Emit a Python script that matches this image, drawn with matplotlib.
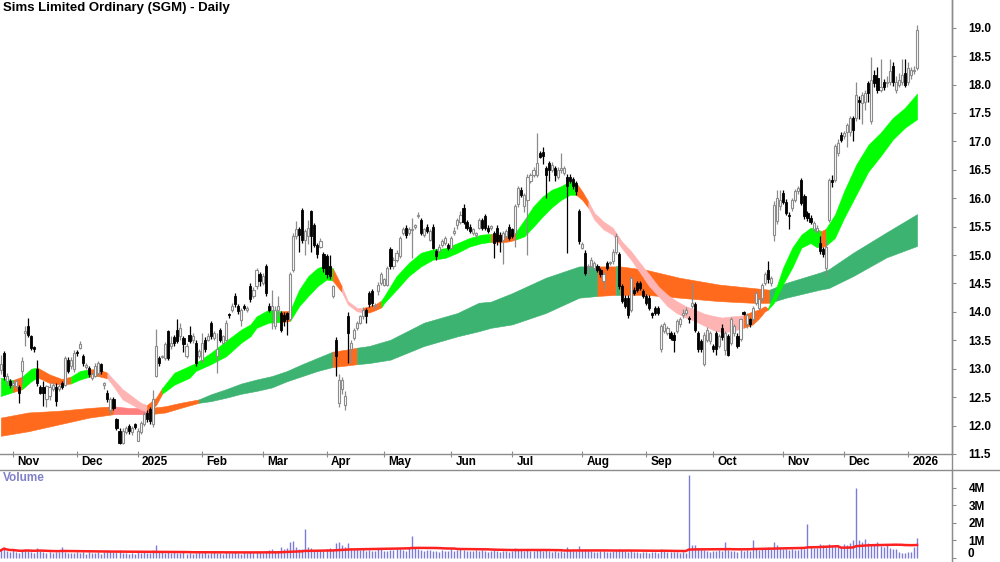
import numpy as np
import matplotlib
matplotlib.use("Agg")
import matplotlib.pyplot as plt
from matplotlib.transforms import blended_transform_factory
import pandas as pd

plt.rcParams['font.family'] = ['Liberation Sans', 'DejaVu Sans']

# ---------------- data ----------------
first_day = -4  # trading-day index of first candle (0 = 1 Nov 2024)

opens = [
    12.98, 13.28, 12.78, 12.78, 12.72, 12.70, 12.68, 12.96, 13.62, 13.75,
    13.57, 13.38, 12.99, 12.67, 12.68, 12.46, 12.52, 12.64, 12.68, 12.64,
    12.75, 12.72, 13.16, 13.05, 12.99, 13.30, 13.37, 13.22, 13.03, 13.02,
    12.84, 12.87, 12.92, 13.08, 12.72, 12.58, 12.28, 12.46, 12.11, 11.90,
    11.70, 11.88, 11.99, 11.88, 12.02, 11.73, 11.88, 12.02, 12.23, 12.29,
    12.02, 12.87, 13.19, 13.20, 13.19, 13.66, 13.40, 13.55, 13.69, 13.57,
    13.54, 13.22, 13.60, 13.51, 13.46, 13.22, 13.16, 13.51, 13.51, 13.81,
    13.54, 13.22, 13.69, 13.46, 13.51, 13.95, 14.04, 14.28, 14.10, 13.86,
    14.10, 14.04, 14.45, 14.28, 14.45, 14.66, 14.51, 14.80, 14.10, 14.04,
    13.75, 14.04, 13.98, 13.95, 13.98, 13.87, 14.74, 15.33, 15.45, 15.80,
    15.27, 15.33, 15.77, 15.53, 15.18, 15.15, 15.01, 14.98, 14.80, 14.28,
    13.51, 12.40, 12.64, 12.37, 13.92, 13.34, 13.54, 13.72, 13.81, 13.92,
    14.04, 14.33, 14.36, 14.10, 14.36, 14.51, 14.48, 14.48, 15.10, 14.80,
    14.92, 14.98, 15.39, 15.48, 15.39, 15.44, 15.50, 15.68, 15.62, 15.36,
    15.50, 15.27, 15.50, 15.07, 15.07, 15.18, 15.21, 15.18, 15.12, 15.39,
    15.53, 15.59, 15.83, 15.59, 15.50, 15.39, 15.36, 15.48, 15.62, 15.68,
    15.48, 15.48, 15.39, 15.48, 15.36, 15.27, 15.33, 15.50, 15.45, 15.39,
    15.89, 16.15, 15.86, 15.97, 16.30, 16.41, 16.41, 16.79, 16.82, 16.53,
    16.62, 16.50, 16.53, 16.38, 16.50, 16.44, 16.38, 16.38, 16.33, 16.27,
    15.77, 15.13, 15.04, 14.79, 14.80, 14.77, 14.80, 14.74, 14.54, 14.86,
    14.86, 14.89, 15.06, 15.01, 14.45, 14.25, 14.25, 14.04, 14.39, 14.51,
    14.51, 14.36, 14.28, 14.25, 13.96, 14.07, 14.07, 13.34, 13.66, 13.63,
    13.63, 13.60, 13.66, 13.78, 13.95, 13.98, 13.88, 14.10, 14.13, 13.63,
    13.48, 13.08, 13.51, 13.48, 13.40, 13.63, 13.40, 13.72, 13.33, 13.57,
    13.46, 13.63, 13.57, 13.52, 13.99, 13.78, 13.87, 13.87, 14.16, 14.07,
    14.25, 14.51, 14.74, 14.51, 15.36, 15.60, 15.86, 16.09, 15.94, 15.70,
    15.83, 15.97, 16.12, 16.32, 16.03, 15.74, 15.65, 15.45, 15.42, 15.21,
    15.10, 14.77, 15.62, 16.32, 16.32, 16.79, 17.12, 17.09, 17.17, 17.17,
    17.41, 17.41, 17.72, 17.67, 17.70, 18.02, 17.35, 18.17, 18.11, 17.91,
    18.05, 18.02, 18.05, 18.32, 17.91, 17.99, 18.05, 18.20, 18.05, 18.17,
    18.23, 18.29,
]

highs = [
    13.25, 13.32, 12.92, 12.82, 12.80, 12.82, 12.72, 13.20, 13.75, 13.89,
    13.60, 13.40, 13.16, 12.72, 12.78, 12.72, 12.75, 12.76, 12.75, 12.74,
    12.78, 13.22, 13.20, 13.20, 13.33, 13.33, 13.48, 13.26, 13.10, 13.05,
    12.95, 13.10, 13.14, 13.10, 12.76, 12.62, 12.50, 12.50, 12.14, 11.95,
    11.95, 12.00, 12.02, 12.00, 12.04, 11.95, 12.08, 12.24, 12.27, 12.33,
    12.62, 13.70, 13.22, 13.25, 13.47, 13.68, 13.58, 13.60, 13.88, 13.80,
    13.58, 13.45, 13.75, 13.62, 13.50, 13.35, 13.63, 13.55, 13.62, 13.84,
    13.67, 13.63, 13.72, 13.60, 13.86, 13.98, 14.16, 14.34, 14.14, 14.07,
    14.14, 14.10, 14.50, 14.43, 14.78, 14.70, 14.68, 14.84, 14.15, 14.38,
    14.10, 14.28, 14.02, 14.00, 14.00, 14.70, 15.38, 15.60, 15.50, 15.82,
    15.46, 15.62, 15.80, 15.56, 15.22, 15.30, 15.05, 15.02, 15.00, 14.48,
    13.55, 12.90, 12.85, 12.60, 14.00, 13.50, 13.72, 13.84, 13.95, 14.08,
    14.06, 14.36, 14.40, 14.15, 14.52, 14.70, 14.60, 14.80, 15.14, 14.96,
    15.08, 15.34, 15.50, 15.52, 15.49, 15.65, 15.55, 15.76, 15.66, 15.48,
    15.54, 15.46, 15.54, 15.10, 15.19, 15.28, 15.34, 15.22, 15.34, 15.50,
    15.66, 15.78, 15.90, 15.62, 15.54, 15.48, 15.40, 15.66, 15.66, 15.72,
    15.52, 15.52, 15.42, 15.52, 15.40, 15.42, 15.46, 15.54, 15.48, 15.90,
    16.22, 16.20, 16.10, 16.42, 16.45, 16.55, 17.15, 16.83, 16.90, 16.57,
    16.66, 16.63, 16.57, 16.54, 16.79, 16.57, 16.42, 16.42, 16.37, 16.31,
    15.81, 15.23, 15.08, 14.85, 14.96, 14.90, 14.84, 14.78, 14.70, 14.90,
    14.90, 15.10, 15.39, 15.05, 14.49, 14.29, 14.29, 14.64, 14.43, 14.55,
    14.55, 14.40, 14.32, 14.29, 14.00, 14.11, 14.11, 13.79, 13.82, 13.76,
    13.67, 13.64, 13.88, 13.91, 14.05, 14.08, 13.92, 14.50, 14.17, 13.67,
    13.52, 13.64, 13.73, 13.67, 13.44, 13.67, 13.61, 13.79, 13.67, 13.61,
    13.91, 13.78, 13.62, 13.90, 14.02, 13.98, 13.90, 14.10, 14.36, 14.25,
    14.50, 14.70, 14.89, 14.63, 15.95, 16.15, 16.15, 16.15, 15.98, 15.75,
    16.00, 16.16, 16.22, 16.36, 16.07, 15.78, 15.70, 15.60, 15.52, 15.33,
    15.14, 15.28, 16.36, 16.40, 16.95, 17.05, 17.16, 17.18, 17.33, 17.45,
    17.45, 18.05, 17.80, 17.86, 17.90, 18.06, 18.49, 18.25, 18.30, 18.45,
    18.10, 18.15, 18.45, 18.40, 18.15, 18.20, 18.45, 18.45, 18.40, 18.30,
    18.32, 19.05,
]

lows = [
    12.90, 12.80, 12.72, 12.66, 12.68, 12.65, 12.40, 12.75, 13.40, 13.55,
    13.33, 13.30, 12.70, 12.55, 12.35, 12.33, 12.45, 12.60, 12.35, 12.60,
    12.64, 12.70, 12.92, 13.00, 12.95, 13.22, 13.34, 13.05, 13.00, 12.86,
    12.80, 12.85, 12.88, 12.90, 12.64, 12.42, 12.20, 12.28, 11.92, 11.67,
    11.68, 11.85, 11.86, 11.84, 11.94, 11.72, 11.85, 12.00, 12.06, 12.02,
    11.98, 12.85, 13.05, 13.18, 13.15, 13.15, 13.35, 13.40, 13.45, 13.50,
    13.30, 13.18, 13.45, 13.45, 13.05, 13.18, 13.10, 13.30, 13.48, 13.52,
    13.50, 12.93, 13.47, 13.43, 13.48, 13.90, 14.00, 14.08, 13.96, 13.75,
    14.03, 14.00, 14.18, 14.25, 14.40, 14.45, 14.48, 14.28, 14.00, 13.70,
    13.70, 13.92, 13.65, 13.75, 13.60, 13.85, 14.70, 15.28, 15.05, 15.22,
    15.00, 15.20, 15.05, 15.15, 14.95, 15.12, 14.70, 14.60, 14.58, 14.25,
    12.88, 12.33, 12.55, 12.28, 13.10, 13.10, 13.50, 13.68, 13.78, 13.88,
    13.81, 14.08, 14.10, 14.05, 14.30, 14.48, 14.45, 14.45, 14.75, 14.76,
    14.88, 14.95, 15.35, 15.30, 15.36, 14.95, 15.45, 15.66, 15.35, 15.32,
    15.38, 15.24, 15.10, 14.92, 15.04, 15.15, 15.18, 15.08, 15.10, 15.35,
    15.45, 15.55, 15.55, 15.44, 15.38, 15.36, 15.30, 15.45, 15.44, 15.44,
    15.38, 15.44, 14.95, 15.18, 15.05, 14.85, 15.30, 15.26, 15.30, 15.15,
    15.85, 16.02, 15.75, 15.00, 16.26, 16.38, 16.38, 16.70, 16.60, 16.00,
    16.30, 16.46, 16.30, 16.34, 16.45, 16.40, 15.04, 16.26, 16.17, 16.06,
    15.20, 15.10, 14.65, 14.65, 14.77, 14.74, 14.70, 14.62, 14.40, 14.73,
    14.82, 14.85, 15.02, 14.40, 14.15, 14.06, 13.90, 14.00, 14.29, 14.35,
    14.38, 14.24, 14.12, 14.03, 13.90, 13.94, 13.94, 13.30, 13.62, 13.60,
    13.50, 13.30, 13.62, 13.74, 13.90, 13.94, 13.80, 14.06, 13.65, 13.30,
    13.30, 13.05, 13.47, 13.44, 13.30, 13.25, 13.36, 13.50, 13.25, 13.22,
    13.42, 13.58, 13.36, 13.48, 13.94, 13.72, 13.74, 13.82, 14.12, 14.03,
    14.20, 14.47, 14.50, 14.46, 15.24, 15.55, 15.80, 15.90, 15.70, 15.45,
    15.78, 15.93, 16.08, 15.88, 15.64, 15.60, 15.55, 15.40, 15.38, 15.02,
    14.97, 14.65, 15.58, 16.20, 16.28, 16.75, 16.99, 17.05, 16.90, 17.10,
    17.00, 17.35, 17.40, 17.30, 17.55, 17.70, 17.30, 17.95, 17.85, 17.87,
    17.90, 17.95, 18.00, 17.98, 17.85, 17.95, 18.00, 17.95, 18.00, 18.10,
    18.18, 18.25,
]

closes = [
    13.08, 12.87, 12.87, 12.72, 12.75, 12.78, 12.57, 13.13, 13.66, 13.60,
    13.37, 13.35, 12.75, 12.58, 12.58, 12.69, 12.68, 12.72, 12.43, 12.70,
    12.68, 13.19, 12.96, 13.16, 13.28, 13.27, 13.43, 13.10, 13.06, 12.90,
    12.90, 13.05, 13.10, 12.96, 12.72, 12.46, 12.46, 12.31, 11.96, 11.70,
    11.90, 11.96, 11.90, 11.96, 11.98, 11.90, 12.05, 12.20, 12.11, 12.08,
    12.46, 13.40, 13.10, 13.22, 13.43, 13.19, 13.45, 13.46, 13.49, 13.72,
    13.43, 13.40, 13.49, 13.57, 13.10, 13.31, 13.46, 13.34, 13.57, 13.57,
    13.63, 13.34, 13.51, 13.57, 13.81, 13.94, 14.10, 14.13, 14.01, 14.04,
    14.06, 14.07, 14.22, 14.39, 14.74, 14.54, 14.63, 14.33, 14.04, 14.10,
    14.04, 14.10, 13.69, 13.84, 13.87, 14.66, 15.33, 15.45, 15.36, 15.27,
    15.42, 15.48, 15.33, 15.18, 15.01, 15.24, 14.77, 14.66, 14.63, 14.45,
    13.22, 12.81, 12.81, 12.52, 13.63, 13.46, 13.69, 13.81, 13.92, 14.04,
    13.92, 14.13, 14.16, 14.11, 14.48, 14.66, 14.57, 14.77, 14.80, 14.92,
    15.04, 15.30, 15.45, 15.36, 15.45, 15.46, 15.51, 15.71, 15.39, 15.45,
    15.42, 15.42, 15.13, 14.98, 15.15, 15.24, 15.30, 15.12, 15.30, 15.40,
    15.62, 15.71, 15.59, 15.48, 15.42, 15.45, 15.37, 15.62, 15.48, 15.48,
    15.42, 15.49, 15.21, 15.24, 15.24, 15.39, 15.42, 15.30, 15.33, 15.86,
    16.18, 16.06, 16.06, 16.38, 16.41, 16.50, 16.62, 16.73, 16.74, 16.41,
    16.50, 16.59, 16.41, 16.50, 16.53, 16.53, 16.21, 16.30, 16.21, 16.12,
    15.24, 15.19, 14.69, 14.80, 14.92, 14.86, 14.74, 14.66, 14.66, 14.77,
    14.87, 15.06, 15.33, 14.45, 14.19, 14.10, 13.95, 14.60, 14.33, 14.39,
    14.42, 14.28, 14.16, 14.07, 13.95, 13.98, 13.98, 13.75, 13.78, 13.72,
    13.54, 13.51, 13.84, 13.87, 13.96, 14.04, 13.87, 14.16, 13.69, 13.34,
    13.34, 13.60, 13.69, 13.63, 13.34, 13.34, 13.57, 13.56, 13.63, 13.25,
    13.87, 13.75, 13.40, 13.87, 13.97, 13.95, 13.78, 14.07, 14.33, 14.22,
    14.48, 14.66, 14.57, 14.60, 15.88, 16.00, 15.97, 15.94, 15.74, 15.68,
    15.97, 16.12, 16.18, 15.92, 15.68, 15.65, 15.59, 15.56, 15.48, 15.07,
    15.01, 15.15, 16.32, 16.28, 16.91, 16.97, 17.03, 17.14, 17.29, 17.41,
    17.20, 17.82, 17.70, 17.82, 17.85, 17.85, 18.08, 18.02, 17.91, 17.96,
    17.96, 18.05, 18.23, 18.05, 18.05, 18.08, 18.17, 17.99, 18.29, 18.26,
    18.26, 18.96,
]

volumes_k = [
    420, 610, 380, 350, 430, 300, 290, 360, 520, 450,
    330, 280, 560, 410, 300, 270, 320, 260, 350, 300,
    620, 330, 290, 270, 260, 310, 280, 350, 240, 300,
    260, 280, 300, 240, 350, 420, 380, 310, 330, 450,
    290, 260, 230, 280, 200, 300, 270, 320, 280, 260,
    450, 700, 350, 300, 280, 330, 260, 300, 250, 280,
    310, 240, 270, 220, 260, 300, 280, 350, 240, 270,
    300, 260, 280, 230, 330, 250, 290, 320, 260, 240,
    300, 280, 350, 270, 330, 310, 290, 380, 450, 520,
    400, 360, 620, 480, 540, 880, 950, 640, 520, 480,
    1620, 600, 550, 420, 380, 460, 400, 520, 560, 440,
    830, 900, 750, 600, 820, 560, 470, 480, 420, 500,
    380, 440, 360, 410, 480, 520, 400, 380, 450, 420,
    500, 480, 440, 400, 620, 1220, 560, 470, 430, 390,
    420, 460, 380, 400, 350, 430, 380, 410, 470, 400,
    450, 520, 430, 380, 400, 360, 420, 390, 440, 380,
    350, 400, 420, 380, 330, 360, 410, 340, 380, 560,
    480, 420, 390, 450, 400, 380, 520, 440, 400, 480,
    380, 340, 360, 320, 400, 350, 600, 420, 380, 360,
    680, 520, 480, 430, 380, 350, 330, 400, 360, 300,
    320, 380, 420, 500, 460, 380, 350, 420, 330, 300,
    280, 310, 350, 290, 320, 300, 280, 520, 360, 330,
    300, 340, 320, 290, 310, 280, 4700, 750, 700, 560,
    480, 420, 380, 350, 400, 360, 420, 380, 900, 450,
    400, 380, 350, 420, 380, 460, 400, 1000, 520, 440,
    480, 560, 600, 520, 900, 700, 600, 520, 480, 440,
    500, 460, 420, 560, 520, 1900, 620, 540, 580, 800,
    700, 620, 800, 650, 720, 600, 560, 780, 700, 820,
    1000, 4000, 1000, 900, 1050, 820, 760, 700, 900, 680,
    620, 700, 560, 520, 480, 300, 250, 280, 320, 300,
    600, 1100,
]

month_labels = ['Nov', 'Dec', '2025', 'Feb', 'Mar', 'Apr', 'May', 'Jun',
                'Jul', 'Aug', 'Sep', 'Oct', 'Nov', 'Dec', '2026']
month_start_idx = [0, 21, 41, 62, 82, 103, 122, 144, 164, 187, 208, 230,
                   253, 273, 294]

# short-term ribbon (knots: trading-day idx, upper, lower, trend state)
short_x = [-4, 0, 3, 6, 8, 12, 16, 19, 22, 25, 28, 31, 33, 36, 39, 42, 44,
           47, 49, 53, 58, 60, 65, 70, 75, 78, 80, 84, 88, 91, 94, 97, 100,
           103, 105, 108, 110, 113, 115, 117, 119, 121, 122, 126, 130, 134,
           138, 142, 146, 150, 154, 157, 160, 163, 165, 168, 171, 174, 177,
           180, 183, 185, 187, 189, 191, 194, 197, 200, 203, 206, 209, 212,
           215, 218, 221, 224, 227, 230, 233, 236, 240, 243, 245, 247, 248,
           250, 253, 256, 259, 262, 264, 265.5, 267, 270, 273, 277, 281,
           285, 289, 293, 297]
short_top = [12.84, 12.80, 12.86, 13.00, 13.02, 12.90, 12.82, 12.86, 12.96,
             12.99, 12.99, 12.93, 12.81, 12.64, 12.52, 12.40, 12.36, 12.49,
             12.66, 12.93, 13.05, 13.10, 13.28, 13.49, 13.69, 13.78, 13.92,
             14.04, 14.01, 14.02, 14.39, 14.63, 14.77, 14.83, 14.77, 14.45,
             14.19, 14.07, 14.07, 14.10, 14.13, 14.20, 14.28, 14.63, 14.86,
             15.04, 15.10, 15.12, 15.21, 15.30, 15.36, 15.37, 15.36, 15.37,
             15.39, 15.62, 15.86, 16.03, 16.15, 16.21, 16.30, 16.27, 16.12,
             15.94, 15.74, 15.59, 15.48, 15.24, 15.07, 14.86, 14.66, 14.45,
             14.30, 14.19, 14.10, 14.04, 13.97, 13.93, 13.90, 13.92, 13.94,
             14.01, 14.04, 14.10, 14.06, 14.31, 14.78, 15.13, 15.36, 15.48,
             15.46, 15.42, 15.46, 15.71, 16.12, 16.59, 16.94, 17.15, 17.41,
             17.59, 17.84]
short_bot = [12.52, 12.59, 12.64, 12.78, 12.85, 12.75, 12.72, 12.74, 12.81,
             12.86, 12.87, 12.83, 12.69, 12.46, 12.37, 12.28, 12.25, 12.36,
             12.56, 12.72, 12.84, 12.96, 13.08, 13.22, 13.46, 13.57, 13.72,
             13.81, 13.82, 13.84, 14.10, 14.28, 14.45, 14.57, 14.55, 14.35,
             14.13, 14.01, 13.99, 13.99, 14.03, 14.08, 14.16, 14.39, 14.63,
             14.80, 14.92, 14.95, 15.04, 15.15, 15.21, 15.23, 15.22, 15.24,
             15.27, 15.33, 15.50, 15.68, 15.84, 15.97, 16.06, 16.06, 15.97,
             15.83, 15.62, 15.45, 15.36, 15.12, 14.92, 14.69, 14.45, 14.28,
             14.10, 13.98, 13.90, 13.84, 13.76, 13.68, 13.64, 13.66, 13.72,
             13.78, 13.88, 14.01, 14.04, 14.16, 14.49, 14.78, 15.13, 15.21,
             15.14, 15.14, 15.16, 15.30, 15.65, 16.06, 16.47, 16.74, 17.03,
             17.24, 17.39]
short_state = ['up', 'flat', 'up', 'up', 'flat', 'flat', 'flat', 'up', 'up',
               'flat', 'flat', 'down', 'down', 'down', 'down', 'down', 'flat',
               'flat', 'up', 'up', 'up', 'up', 'up', 'up', 'up', 'up', 'up',
               'up', 'flat', 'up', 'up', 'up', 'up', 'up', 'flat', 'down',
               'down', 'down', 'flat', 'flat', 'flat', 'up', 'up', 'up', 'up',
               'up', 'up', 'up', 'up', 'up', 'up', 'flat', 'flat', 'flat',
               'up', 'up', 'up', 'up', 'up', 'up', 'up', 'flat', 'flat',
               'down', 'down', 'down', 'down', 'down', 'down', 'down', 'down',
               'down', 'down', 'down', 'down', 'down', 'down', 'down', 'down',
               'down', 'flat', 'flat', 'flat', 'flat', 'up', 'up', 'up', 'up',
               'up', 'up', 'up', 'flat', 'up', 'up', 'up', 'up', 'up', 'up',
               'up', 'up', 'up']

# long-term ribbon
long_x = [-4, 5, 15, 25, 33, 38, 45, 50, 55, 61, 65, 70, 75, 80, 85, 90, 95,
          100, 105, 110, 113, 117, 124, 135, 146, 153, 157, 164, 175, 186,
          192, 198, 199.5, 208, 219, 232, 243, 248.5, 254, 265, 268, 276,
          287, 297]
long_top = [12.14, 12.23, 12.26, 12.31, 12.34, 12.31, 12.31, 12.34, 12.40,
            12.46, 12.55, 12.64, 12.74, 12.81, 12.87, 12.96, 13.08, 13.19,
            13.30, 13.34, 13.37, 13.40, 13.51, 13.81, 13.98, 14.16, 14.18,
            14.33, 14.60, 14.80, 14.80, 14.80, 14.80, 14.74, 14.60, 14.48,
            14.42, 14.39, 14.51, 14.69, 14.75, 15.04, 15.40, 15.72]
long_bot = [11.82, 11.90, 12.02, 12.14, 12.20, 12.20, 12.20, 12.23, 12.31,
            12.40, 12.43, 12.49, 12.56, 12.61, 12.67, 12.78, 12.87, 12.96,
            13.03, 13.06, 13.08, 13.10, 13.16, 13.40, 13.57, 13.66, 13.72,
            13.78, 13.98, 14.25, 14.28, 14.30, 14.30, 14.30, 14.25, 14.19,
            14.16, 14.16, 14.25, 14.39, 14.42, 14.63, 14.96, 15.16]
long_state = ['flat', 'flat', 'flat', 'flat', 'down', 'down', 'flat', 'flat',
              'flat', 'up', 'up', 'up', 'up', 'up', 'up', 'up', 'up', 'up',
              'flat', 'flat', 'up', 'up', 'up', 'up', 'up', 'up', 'up', 'up',
              'up', 'up', 'flat', 'up', 'flat', 'flat', 'flat', 'flat', 'flat',
              'up', 'up', 'up', 'up', 'up', 'up', 'up']

# ---------------- styles ----------------
short_colors = {'up': '#00FF00', 'flat': '#FF6A1C', 'down': '#FFB4B4'}
long_colors = {'up': '#3CB371', 'flat': '#FF6A1C', 'down': '#FF7F7F'}

W, H = 1000, 562
fig = plt.figure(figsize=(W / 100, H / 100), dpi=100)
px_per_day = 3.044
x_left = 0 - 13 / px_per_day
x_right = (952 - 13) / px_per_day

ax = fig.add_axes([0, 1 - 454 / H, 952 / W, 454 / H])
axv = fig.add_axes([0, 0, 952 / W, 92 / H])

idx = np.arange(first_day, first_day + len(closes))
o = np.array(opens); h = np.array(highs); l = np.array(lows); c = np.array(closes)


def draw_ribbon(axis, xs, tops, bots, states, colors):
    n = len(xs)
    i = 0
    while i < n - 1:
        j = i
        while j + 1 < n - 1 and states[j + 1] == states[i]:
            j += 1
        col = colors[states[i]]
        axis.fill_between(xs[i:j + 2], bots[i:j + 2], tops[i:j + 2],
                          facecolor=col, edgecolor=col, linewidth=0.4, zorder=1)
        i = j + 1


draw_ribbon(ax, long_x, long_top, long_bot, long_state, long_colors)
draw_ribbon(ax, short_x, short_top, short_bot, short_state, short_colors)

up = c >= o
wick_col = np.where(up, '#8C8C8C', '#000000')
ax.vlines(idx, l, h, colors=wick_col, linewidth=0.9, zorder=3)
body_bottom = np.minimum(o, c)
body_h = np.maximum(np.abs(c - o), 0.025)
ax.bar(idx[up], body_h[up], bottom=body_bottom[up], width=0.7,
       facecolor='white', edgecolor='#8C8C8C', linewidth=0.8, zorder=4)
ax.bar(idx[~up], body_h[~up], bottom=body_bottom[~up], width=0.7,
       facecolor='black', edgecolor='black', linewidth=0.6, zorder=4)

ax.set_xlim(x_left, x_right)
ax.set_ylim(11.5 + 0.7 / 56.93, 19.0 + 27.7 / 56.93)
for s in ['top', 'left']:
    ax.spines[s].set_visible(False)
for s in ['right', 'bottom']:
    ax.spines[s].set_color('#8C8C8C')
    ax.spines[s].set_linewidth(1.0)
ax.yaxis.tick_right()
yt = np.arange(11.5, 19.01, 0.5)
ax.set_yticks(yt)
ax.set_yticklabels([f'{v:.1f}' for v in yt], fontsize=8.5, fontweight='bold')
ax.tick_params(axis='y', direction='out', length=3, color='#8C8C8C', pad=9)
ax.set_xticks(month_start_idx)
ax.set_xticklabels([])
ax.tick_params(axis='x', direction='inout', length=4, color='#8C8C8C')
tr = blended_transform_factory(ax.transData, ax.transAxes)
for mi, lab in zip(month_start_idx, month_labels):
    ax.text(mi + 1.4, -8 / 454, lab, transform=tr, ha='left', va='center',
            fontsize=8.5, fontweight='bold', clip_on=False)

ax.text(3 / 952, 1 - 8 / 454, 'Sims Limited Ordinary (SGM) - Daily',
        transform=ax.transAxes, ha='left', va='center', fontsize=9.5,
        fontweight='bold')

# volume panel
vol = np.array(volumes_k) * 1000.0
vol_ma = pd.Series(vol).rolling(50, min_periods=1).mean().values
axv.vlines(idx, 0, vol, colors='#7B7BD8', linewidth=1.0, zorder=2)
axv.plot(idx, vol_ma, color='#FF2020', linewidth=1.8, zorder=3)
axv.set_xlim(x_left, x_right)
axv.set_ylim(-4.3 / 17.5 * 1e6, 87.7 / 17.5 * 1e6)
for s in ['top', 'left', 'bottom']:
    axv.spines[s].set_visible(False)
axv.spines['right'].set_color('#8C8C8C')
axv.yaxis.tick_right()
vt = [0, 1e6, 2e6, 3e6, 4e6]
axv.set_yticks(vt)
axv.set_yticklabels(['', '1M', '2M', '3M', '4M'], fontsize=8.5,
                    fontweight='bold')
axv.tick_params(axis='y', direction='out', length=3, color='#8C8C8C', pad=9)
axv.set_xticks([])
# "0" label placed a little above its tick so it stays inside the figure
fig.text((952 + 3 + 9 * 100 / 72) / W, 1 - 554 / H, '0', ha='left',
         va='center', fontsize=8.5, fontweight='bold')
axv.text(3 / 952, 1 - 8 / 92, 'Volume', transform=axv.transAxes, ha='left',
         va='center', fontsize=8.5, fontweight='bold', color='#8080C8')

# separator line between panels across full width
fig.add_artist(plt.Line2D([0, 1], [1 - 470 / H, 1 - 470 / H],
                          transform=fig.transFigure, color='#8C8C8C',
                          linewidth=1.0))
fig.add_artist(plt.Line2D([952 / W, 952 / W], [0, 1],
                          transform=fig.transFigure, color='#8C8C8C',
                          linewidth=1.0))

fig.savefig('out.png', dpi=100, facecolor='white')
